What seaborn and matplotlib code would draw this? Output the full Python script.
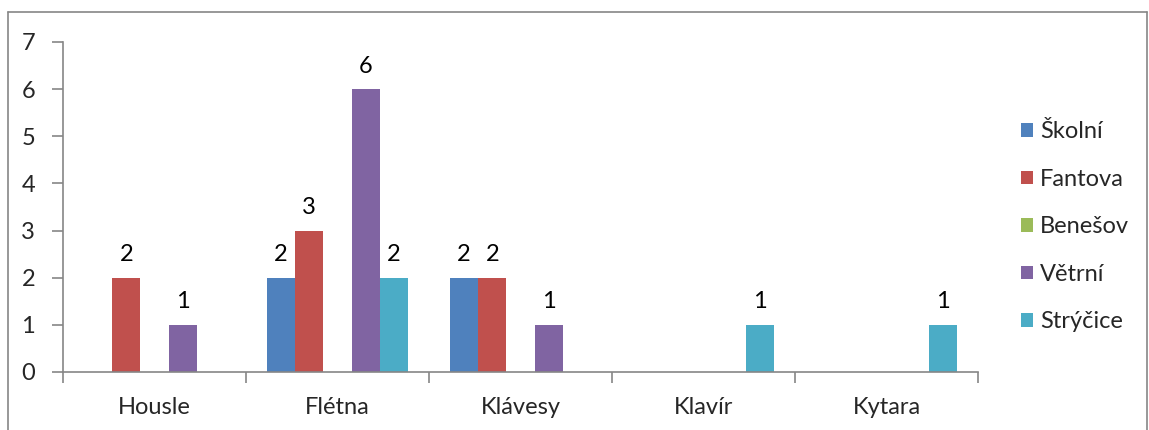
import matplotlib
matplotlib.use("Agg")
import matplotlib.pyplot as plt
import numpy as np
import pandas as pd
import seaborn as sns

categories = ["Housle", "Flétna", "Klávesy", "Klavír", "Kytara"]
skolni = [0, 2, 2, 0, 0]
fantova = [2, 3, 2, 0, 0]
benesov = [0, 0, 0, 0, 0]
vetrni = [1, 6, 1, 0, 0]
strycice = [0, 2, 0, 1, 1]
series = ["Školní", "Fantova", "Benešov", "Větrní", "Strýčice"]
colors = ["#4F81BD", "#C0504D", "#9BBB59", "#8064A2", "#4BACC6"]

rows = []
for name, vals in zip(series, [skolni, fantova, benesov, vetrni, strycice]):
    for cat, v in zip(categories, vals):
        rows.append({"nástroj": cat, "škola": name, "počet": v})
df = pd.DataFrame(rows)

sns.set_theme(style="white")
plt.rcParams["font.family"] = ["Lato", "DejaVu Sans"]
fs = 17

fig = plt.figure(figsize=(11.49, 4.30), dpi=100)
ax = fig.add_axes([63 / 1149, 1 - 372 / 430, (978 - 63) / 1149, (372 - 42) / 430])

sns.barplot(data=df, x="nástroj", y="počet", hue="škola", hue_order=series,
            order=categories, palette=colors, width=0.77, saturation=1,
            errorbar=None, ax=ax, legend=True, linewidth=0)

for cont in ax.containers:
    labels = ["{:g}".format(b.get_height()) if b.get_height() > 0 else "" for b in cont]
    ax.bar_label(cont, labels=labels, padding=9, fontsize=fs, color="black")

ax.set_ylim(0, 7)
ax.set_xlim(-0.5, len(categories) - 0.5)
ax.set_yticks(range(0, 8))
ax.set_xlabel("")
ax.set_ylabel("")
for s in ["top", "right"]:
    ax.spines[s].set_visible(False)
for s in ["left", "bottom"]:
    ax.spines[s].set_color("#868686")
    ax.spines[s].set_linewidth(1.2)
ax.tick_params(axis="y", which="major", direction="out", length=8, width=1.2,
               color="#868686", labelsize=fs, pad=12, left=True)
ax.tick_params(axis="x", which="major", length=0, labelsize=fs, pad=18)
ax.set_xticks(np.arange(-0.5, len(categories)), minor=True)
ax.tick_params(axis="x", which="minor", direction="out", length=8, width=1.2,
               color="#868686", bottom=True)

handles, labs = ax.get_legend_handles_labels()
ax.legend(handles, labs, loc="center left", bbox_to_anchor=(1.037, 0.44),
          frameon=False, fontsize=fs, handlelength=0.5, handleheight=0.5,
          handletextpad=0.3, labelspacing=1.12, borderaxespad=0)

# chart frame
fig.add_artist(plt.Line2D([8 / 1149, 8 / 1149], [0, 1 - 12 / 430],
                          transform=fig.transFigure, color="#868686", lw=1.2))
fig.add_artist(plt.Line2D([8 / 1149, 1147 / 1149], [1 - 12 / 430, 1 - 12 / 430],
                          transform=fig.transFigure, color="#868686", lw=1.2))
fig.add_artist(plt.Line2D([1147 / 1149, 1147 / 1149], [0, 1 - 12 / 430],
                          transform=fig.transFigure, color="#868686", lw=1.2))

fig.savefig("out.png", dpi=100)
